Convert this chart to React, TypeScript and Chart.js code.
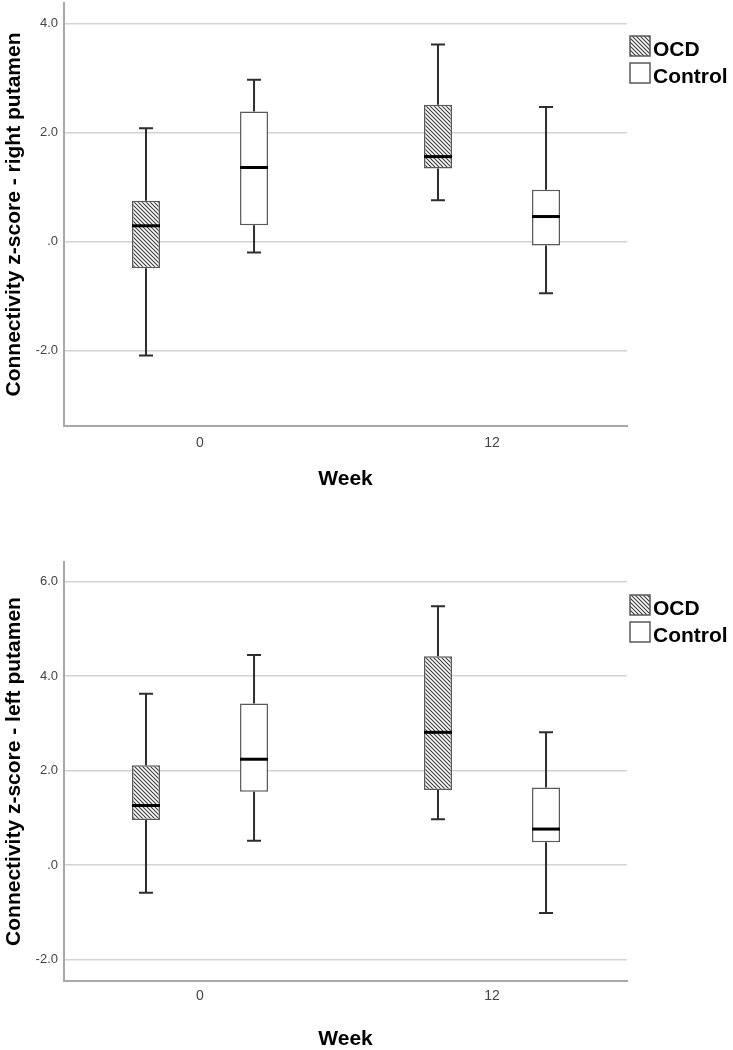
import React, { useEffect, useRef } from 'react';
import { Chart, registerables } from 'chart.js';

Chart.register(...registerables);

// ---------- data ----------
const weekLabels = ['0', '12'];
const groupNames = ['OCD', 'Control'];
const groupDodge = [-0.185, 0.185];

// right putamen (top panel)
const rightOcdMin = [-2.09, 0.76];
const rightOcdQ1 = [-0.49, 1.34];
const rightOcdMedian = [0.29, 1.56];
const rightOcdQ3 = [0.75, 2.51];
const rightOcdMax = [2.08, 3.62];

const rightCtlMin = [-0.2, -0.95];
const rightCtlQ1 = [0.3, -0.07];
const rightCtlMedian = [1.36, 0.46];
const rightCtlQ3 = [2.39, 0.95];
const rightCtlMax = [2.97, 2.47];

// left putamen (bottom panel)
const leftOcdMin = [-0.59, 0.97];
const leftOcdQ1 = [0.95, 1.59];
const leftOcdMedian = [1.26, 2.81];
const leftOcdQ3 = [2.11, 4.42];
const leftOcdMax = [3.63, 5.48];

const leftCtlMin = [0.51, -1.02];
const leftCtlQ1 = [1.55, 0.48];
const leftCtlMedian = [2.24, 0.76];
const leftCtlQ3 = [3.42, 1.64];
const leftCtlMax = [4.45, 2.81];

const rightYRange = [-3.385, 4.38];
const leftYRange = [-2.46, 6.42];
const yTickStep = 2;

const rightTitle = 'Connectivity z-score - right putamen';
const leftTitle = 'Connectivity z-score - left putamen';
const xTitle = 'Week';

// ---------- styling ----------
const FONT = "'Liberation Sans', Arial, Helvetica, sans-serif";

function makeHatch(): CanvasPattern | string {
  const c = document.createElement('canvas');
  c.width = 4;
  c.height = 4;
  const g = c.getContext('2d');
  if (!g) return '#888';
  g.fillStyle = '#ffffff';
  g.fillRect(0, 0, 4, 4);
  g.strokeStyle = '#3a3a3a';
  g.lineWidth = 1.1;
  g.beginPath();
  g.moveTo(-1, -1);
  g.lineTo(5, 5);
  g.moveTo(-1, 3);
  g.lineTo(1, 5);
  g.moveTo(3, -1);
  g.lineTo(5, 1);
  g.stroke();
  const p = g.createPattern(c, 'repeat');
  return p || '#888';
}

const boxWhiskerPlugin = {
  id: 'boxWhisker',
  afterDatasetsDraw(chart: any) {
    const { ctx } = chart;
    const ys = chart.scales.y;
    chart.data.datasets.forEach((ds: any, di: number) => {
      const meta = chart.getDatasetMeta(di);
      meta.data.forEach((bar: any, i: number) => {
        const { x, width } = bar.getProps(['x', 'width'], true);
        const s = ds.stats;
        const pMin = ys.getPixelForValue(s.min[i]);
        const pMax = ys.getPixelForValue(s.max[i]);
        const pQ1 = ys.getPixelForValue(s.q1[i]);
        const pQ3 = ys.getPixelForValue(s.q3[i]);
        const pMed = ys.getPixelForValue(s.median[i]);
        const cap = width / 4;
        ctx.save();
        ctx.strokeStyle = '#2e2e2e';
        ctx.lineWidth = 2;
        ctx.lineCap = 'butt';
        ctx.beginPath();
        ctx.moveTo(x, pQ3);
        ctx.lineTo(x, pMax);
        ctx.moveTo(x, pQ1);
        ctx.lineTo(x, pMin);
        ctx.moveTo(x - cap, pMax);
        ctx.lineTo(x + cap, pMax);
        ctx.moveTo(x - cap, pMin);
        ctx.lineTo(x + cap, pMin);
        ctx.stroke();
        ctx.strokeStyle = '#000000';
        ctx.lineWidth = 3;
        ctx.beginPath();
        ctx.moveTo(x - width / 2, pMed);
        ctx.lineTo(x + width / 2, pMed);
        ctx.stroke();
        ctx.restore();
      });
    });
  },
};

const sideLegendPlugin = {
  id: 'sideLegend',
  afterDraw(chart: any) {
    const { ctx, chartArea } = chart;
    chart.data.datasets.forEach((ds: any, i: number) => {
      const bx = chartArea.right + 3;
      const by = chartArea.top + 33 + i * 27;
      ctx.save();
      ctx.fillStyle = ds.backgroundColor;
      ctx.fillRect(bx, by, 20, 20);
      ctx.strokeStyle = '#5a5a5a';
      ctx.lineWidth = 1.5;
      ctx.strokeRect(bx, by, 20, 20);
      ctx.font = `bold 21px ${FONT}`;
      ctx.fillStyle = '#000000';
      ctx.textBaseline = 'alphabetic';
      ctx.textAlign = 'left';
      ctx.fillText(ds.label, bx + 23, by + 20);
      ctx.restore();
    });
  },
};

type Stats = { min: number[]; q1: number[]; median: number[]; q3: number[]; max: number[] };

type PanelProps = {
  top: number;
  height: number;
  yRange: number[];
  yTitle: string;
  groups: Stats[];
  padTop: number;
  xAxisHeight: number;
  xTickPad: number;
  xTitlePad: number;
};

function BoxPanel(props: PanelProps) {
  const ref = useRef<HTMLCanvasElement>(null);
  useEffect(() => {
    if (!ref.current) return;
    const hatch = makeHatch();
    const fills = [hatch, '#ffffff'];
    const datasets = props.groups.map((g, gi) => ({
      label: groupNames[gi],
      data: weekLabels.map((_, wi) => ({ x: wi + groupDodge[gi], y: [g.q1[wi], g.q3[wi]] })),
      stats: g,
      backgroundColor: fills[gi],
      borderColor: '#5a5a5a',
      borderWidth: 1.5,
      borderSkipped: false,
      grouped: false,
      maxBarThickness: 28,
    }));
    const chart = new Chart(ref.current, {
      type: 'bar',
      data: { datasets: datasets as any },
      options: {
        animation: false,
        responsive: false,
        maintainAspectRatio: false,
        layout: { padding: { top: props.padTop, right: 106, left: 0, bottom: 0 } },
        plugins: { legend: { display: false }, tooltip: { enabled: false } },
        scales: {
          x: {
            type: 'linear',
            offset: false,
            min: -0.4658,
            max: 1.4623,
            afterBuildTicks: (scale: any) => {
              scale.ticks = weekLabels.map((_, i) => ({ value: i }));
            },
            afterFit: (scale: any) => {
              scale.height = props.xAxisHeight;
              scale.paddingLeft = 0;
              scale.paddingRight = 0;
            },
            grid: { display: false, drawTicks: false },
            border: { display: true, color: '#a8a8a8', width: 2 },
            ticks: {
              padding: props.xTickPad,
              color: '#444444',
              font: { family: FONT, size: 14 },
              callback: (_v: any, i: number) => weekLabels[i],
            },
            title: {
              display: true,
              text: xTitle,
              color: '#000000',
              font: { family: FONT, size: 21, weight: 'bold', lineHeight: 1 },
              padding: { top: 0, bottom: props.xTitlePad },
            },
          },
          y: {
            type: 'linear',
            min: props.yRange[0],
            max: props.yRange[1],
            afterFit: (scale: any) => {
              scale.width = 64;
              scale.paddingTop = 0;
              scale.paddingBottom = 0;
            },
            grid: { display: true, drawTicks: false, color: '#d3d3d3', lineWidth: 1.5 },
            border: { display: true, color: '#a8a8a8', width: 2 },
            ticks: {
              stepSize: yTickStep,
              includeBounds: false,
              padding: 6,
              color: '#444444',
              font: { family: FONT, size: 13 },
              callback: (v: any) => (Number(v) === 0 ? '.0' : Number(v).toFixed(1)),
            },
            title: {
              display: true,
              text: props.yTitle,
              color: '#000000',
              font: { family: FONT, size: 21, weight: 'bold', lineHeight: 1 },
              padding: { top: 3.5, bottom: 0 },
            },
          },
        },
      } as any,
      plugins: [boxWhiskerPlugin, sideLegendPlugin],
    });
    return () => chart.destroy();
  }, []);
  return (
    <canvas
      ref={ref}
      width={733}
      height={props.height}
      style={{ position: 'absolute', left: 0, top: props.top, width: 733, height: props.height }}
    />
  );
}

export default function App() {
  const rightGroups: Stats[] = [
    { min: rightOcdMin, q1: rightOcdQ1, median: rightOcdMedian, q3: rightOcdQ3, max: rightOcdMax },
    { min: rightCtlMin, q1: rightCtlQ1, median: rightCtlMedian, q3: rightCtlQ3, max: rightCtlMax },
  ];
  const leftGroups: Stats[] = [
    { min: leftOcdMin, q1: leftOcdQ1, median: leftOcdMedian, q3: leftOcdQ3, max: leftOcdMax },
    { min: leftCtlMin, q1: leftCtlQ1, median: leftCtlMedian, q3: leftCtlQ3, max: leftCtlMax },
  ];
  return (
    <div style={{ position: 'absolute', left: 0, top: 0, width: 733, height: 1050, background: '#ffffff' }}>
      <BoxPanel
        top={0}
        height={500}
        yRange={rightYRange}
        yTitle={rightTitle}
        groups={rightGroups}
        padTop={3}
        xAxisHeight={74}
        xTickPad={8.6}
        xTitlePad={10.5}
      />
      <BoxPanel
        top={520}
        height={530}
        yRange={leftYRange}
        yTitle={leftTitle}
        groups={leftGroups}
        padTop={42}
        xAxisHeight={69}
        xTickPad={7}
        xTitlePad={0}
      />
    </div>
  );
}
